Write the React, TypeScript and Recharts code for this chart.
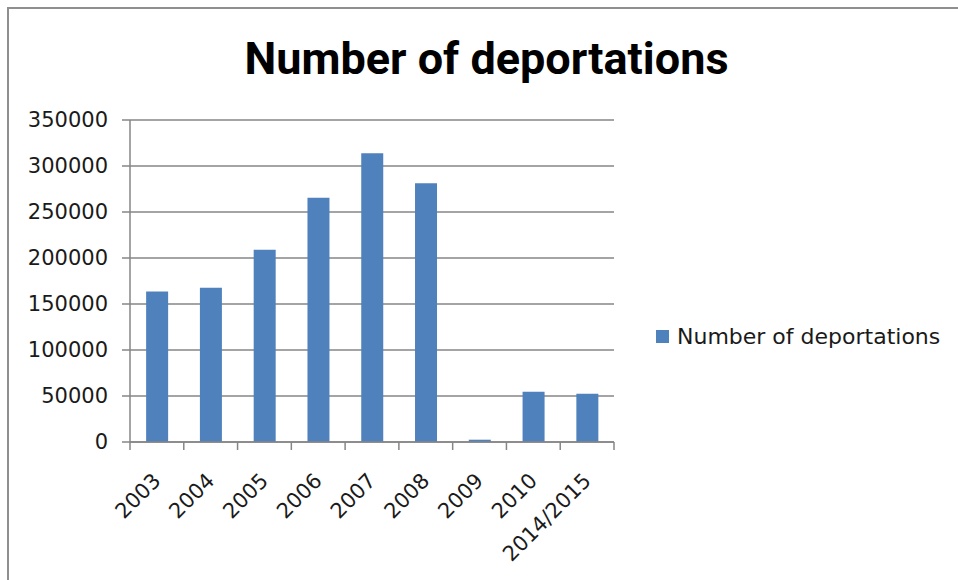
import { BarChart, Bar, XAxis, YAxis, CartesianGrid, Legend } from "recharts";

const categories = ["2003", "2004", "2005", "2006", "2007", "2008", "2009", "2010", "2014/2015"];
const deportations = [163500, 167700, 209000, 265500, 313800, 281200, 2500, 54700, 52500];
const yTicks = [0, 50000, 100000, 150000, 200000, 250000, 300000, 350000];

const seriesName = "Number of deportations";
const barColor = "#4F81BD";
const lineColor = "#868686";
const font = "'DejaVu Sans', Verdana, sans-serif";

const data = categories.map((year, i) => ({ year, value: deportations[i] }));

// x ticks: Excel puts the tick marks between categories, labels rotated 45deg
const XTick = (props: any) => {
  const { x, y, payload, index, visibleTicksCount } = props;
  const half = payload.offset ?? 0;
  const last = index === visibleTicksCount - 1;
  return (
    <g>
      <line x1={x - half} x2={x - half} y1={y} y2={y + 8} stroke={lineColor} strokeWidth={1.5} />
      {last && (
        <line x1={x + half} x2={x + half} y1={y} y2={y + 8} stroke={lineColor} strokeWidth={1.5} />
      )}
      <text
        x={x + 5}
        y={y + 40}
        textAnchor="end"
        transform={`rotate(-45 ${x + 5} ${y + 40})`}
        fill="#1a1a1a"
        fontSize={21}
        fontFamily={font}
      >
        {payload.value}
      </text>
    </g>
  );
};

const LegendBox = (props: any) => {
  const { payload } = props;
  return (
    <div>
      {(payload || []).map((entry: any, i: number) => (
        <div key={i} style={{ display: "flex", alignItems: "center" }}>
          <span style={{ width: 13, height: 13, background: barColor, marginRight: 8, display: "inline-block" }} />
          <span style={{ fontSize: 22, color: "#1a1a1a", fontFamily: font, whiteSpace: "nowrap" }}>{entry.value}</span>
        </div>
      ))}
    </div>
  );
};

export default function App() {
  return (
    <div style={{ position: "absolute", left: 0, top: 0, width: 958, height: 580, background: "#fff", overflow: "hidden" }}>
      {/* chart frame */}
      <div
        style={{
          position: "absolute",
          left: 7,
          top: 7,
          width: 960,
          height: 600,
          borderTop: "2px solid #8f8f8f",
          borderLeft: "2px solid #8f8f8f",
        }}
      />
      <div
        style={{
          position: "absolute",
          left: 0,
          top: 36,
          width: 973,
          textAlign: "center",
          fontFamily: "Roboto, sans-serif",
          fontWeight: 700,
          fontSize: 45,
          lineHeight: "45px",
          color: "#000",
        }}
      >
        Number of deportations
      </div>
      <div style={{ position: "absolute", left: 0, top: 0 }}>
        <BarChart
          width={958}
          height={580}
          data={data}
          margin={{ top: 120, right: 344, bottom: 0, left: 0 }}
          barCategoryGap="30%"
        >
          <CartesianGrid horizontal vertical={false} stroke={lineColor} strokeWidth={1.5} />
          <XAxis
            dataKey="year"
            interval={0}
            tickLine={false}
            tickSize={0}
            tickMargin={0}
            axisLine={{ stroke: lineColor, strokeWidth: 1.5 }}
            tick={<XTick />}
            height={138}
          />
          <YAxis
            width={130}
            domain={[0, 350000]}
            ticks={yTicks}
            interval={0}
            tickSize={8}
            tickMargin={14}
            axisLine={{ stroke: lineColor, strokeWidth: 1.5 }}
            tickLine={{ stroke: lineColor, strokeWidth: 1.5 }}
            tick={{ fill: "#1a1a1a", fontSize: 21, fontFamily: font }}
          />
          <Legend
            layout="horizontal"
            align="center"
            verticalAlign="middle"
            content={<LegendBox />}
            wrapperStyle={{ left: 656, top: 324, width: 300 }}
          />
          <Bar dataKey="value" name={seriesName} fill={barColor} isAnimationActive={false} />
        </BarChart>
      </div>
    </div>
  );
}
